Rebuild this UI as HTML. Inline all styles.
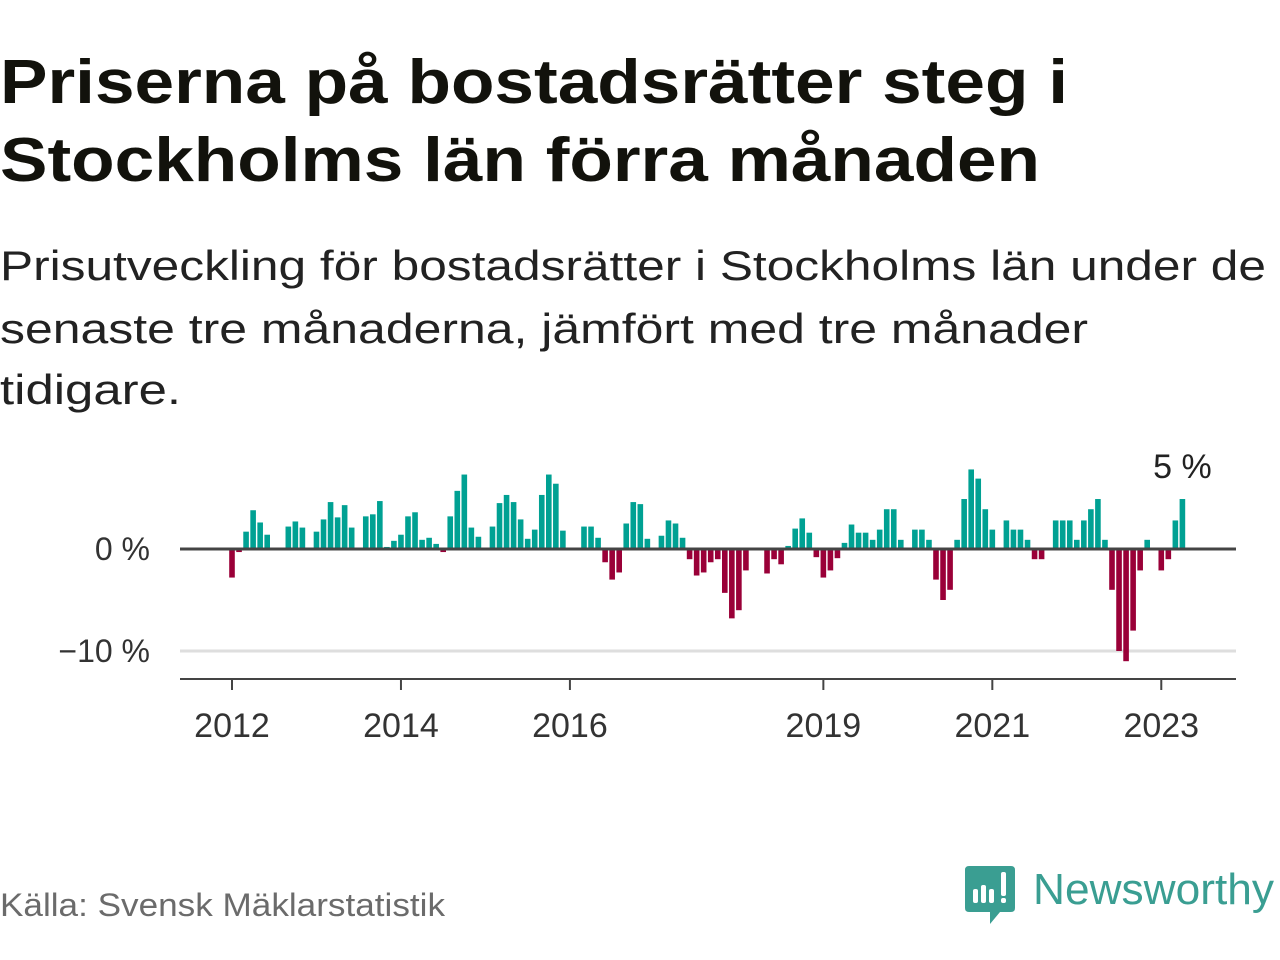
<!DOCTYPE html>
<html><head><meta charset="utf-8"><style>
html,body{margin:0;padding:0;background:#fff;}
svg{display:block;font-family:"Liberation Sans",sans-serif;}
</style></head><body>
<svg id="c" width="1280" height="960" viewBox="0 0 1280 960">
<text x="0" y="103" font-size="62" font-weight="bold" fill="#12120c" textLength="1068" lengthAdjust="spacingAndGlyphs">Priserna på bostadsrätter steg i</text>
<text x="0" y="181" font-size="62" font-weight="bold" fill="#12120c" textLength="1040" lengthAdjust="spacingAndGlyphs">Stockholms län förra månaden</text>
<text x="0" y="280" font-size="42" fill="#222" textLength="1266" lengthAdjust="spacingAndGlyphs">Prisutveckling för bostadsrätter i Stockholms län under de</text>
<text x="0" y="343" font-size="42" fill="#222" textLength="1088" lengthAdjust="spacingAndGlyphs">senaste tre månaderna, jämfört med tre månader</text>
<text x="0" y="404" font-size="42" fill="#222" textLength="181" lengthAdjust="spacingAndGlyphs">tidigare.</text>
<g id="plot"></g>
<text x="0" y="916" font-size="32" fill="#6b6b6b" textLength="445" lengthAdjust="spacingAndGlyphs">Källa: Svensk Mäklarstatistik</text>
<g>
<path d="M969 866 H1011 Q1015 866 1015 870 V908 Q1015 912 1011 912 H1000 L990 924 L990 912 H969 Q965 912 965 908 V870 Q965 866 969 866 Z" fill="#3a9e92"/>
<rect x="973" y="889" width="5" height="14" rx="2" fill="#fff"/>
<rect x="981" y="885" width="5" height="18" rx="2" fill="#fff"/>
<rect x="989" y="889" width="5" height="14" rx="2" fill="#fff"/>
<rect x="1001" y="872" width="5" height="24" rx="2" fill="#fff"/>
<rect x="1001" y="898" width="5" height="5" rx="2" fill="#fff"/>
<text x="1033" y="904" font-size="44" fill="#3a9e92" textLength="241" lengthAdjust="spacingAndGlyphs">Newsworthy</text>
</g>
</svg>
<script>
const startYear = 2012;
const values = [-2.8,-0.3,1.7,3.8,2.6,1.4,0,0,2.2,2.7,2.1,0,
1.7,2.9,4.6,3.1,4.3,2.1,0,3.2,3.4,4.7,0.2,0.8,
1.4,3.2,3.6,0.9,1.1,0.5,-0.3,3.2,5.7,7.3,2.1,1.2,
0,2.2,4.5,5.3,4.6,2.9,1.0,1.9,5.3,7.3,6.4,1.8,
0.1,0,2.2,2.2,1.1,-1.3,-3.0,-2.3,2.5,4.6,4.4,1.0,
0,1.3,2.8,2.5,1.1,-1.0,-2.6,-2.3,-1.3,-1.0,-4.3,-6.8,
-6.0,-2.1,0,0,-2.4,-1.0,-1.5,0.3,2.0,3.0,1.6,-0.8,
-2.8,-2.1,-0.9,0.6,2.4,1.6,1.6,0.9,1.9,3.9,3.9,0.9,
0,1.9,1.9,0.9,-3.0,-5.0,-4.0,0.9,4.9,7.8,6.9,3.9,
1.9,0,2.8,1.9,1.9,0.9,-1.0,-1.0,0,2.8,2.8,2.8,
0.9,2.8,3.9,4.9,0.9,-4.0,-10.0,-11.0,-8.0,-2.1,0.9,0,
-2.1,-1.0,2.8,4.9];
const xTickYears = [2012,2014,2016,2019,2021,2023];
const yTicks = [0,-10];
const yTickLabels = ["0 %","\u221210 %"];
const NS="http://www.w3.org/2000/svg";
const g=document.getElementById('plot');
const x0=232, pxPerMonth=7.04, y0=549, pxPerPct=10.2;
const xScale=m=>x0+m*pxPerMonth;
const yScale=v=>y0-v*pxPerPct;
function mk(t,a){const e=document.createElementNS(NS,t);for(const k in a)e.setAttribute(k,a[k]);g.appendChild(e);return e;}
// grid
yTicks.forEach((t,i)=>{
  if(t!==0){const l=mk('line',{x1:180,x2:1236,y1:yScale(t),y2:yScale(t),stroke:'#dedede','stroke-width':3});
  
  }
  const tx=mk('text',{x:150,y:yScale(t)+11,'font-size':32,'text-anchor':'end',fill:'#333'});
  tx.textContent=yTickLabels[i];
  
  
});
values.forEach((v,i)=>{
  const x=xScale(i), y=yScale(Math.max(v,0)), h=Math.abs(v)*pxPerPct;
  const r=mk('rect',{x:x-2.8,y:y,width:5.6,height:Math.max(h,0.01),fill:v>=0?'#00a193':'#9a0038'});
  
  
});
const z=mk('line',{x1:180,x2:1236,y1:y0,y2:y0,stroke:'#444','stroke-width':3});


const ax=mk('line',{x1:180,x2:1236,y1:679,y2:679,stroke:'#444','stroke-width':2});


xTickYears.forEach(yr=>{
  const x=xScale((yr-startYear)*12);
  const t=mk('line',{x1:x,x2:x,y1:679,y2:690,stroke:'#444','stroke-width':2});
  
  
  const tx=mk('text',{x:x,y:737,'font-size':34,'text-anchor':'middle',fill:'#333'});
  tx.textContent=String(yr);
  
  
});
const last=values.length-1;
const lab=mk('text',{x:xScale(last),y:478,'font-size':34,'text-anchor':'middle',fill:'#222'});
lab.textContent=Math.round(values[last])+' %';


</script>
</body></html>
